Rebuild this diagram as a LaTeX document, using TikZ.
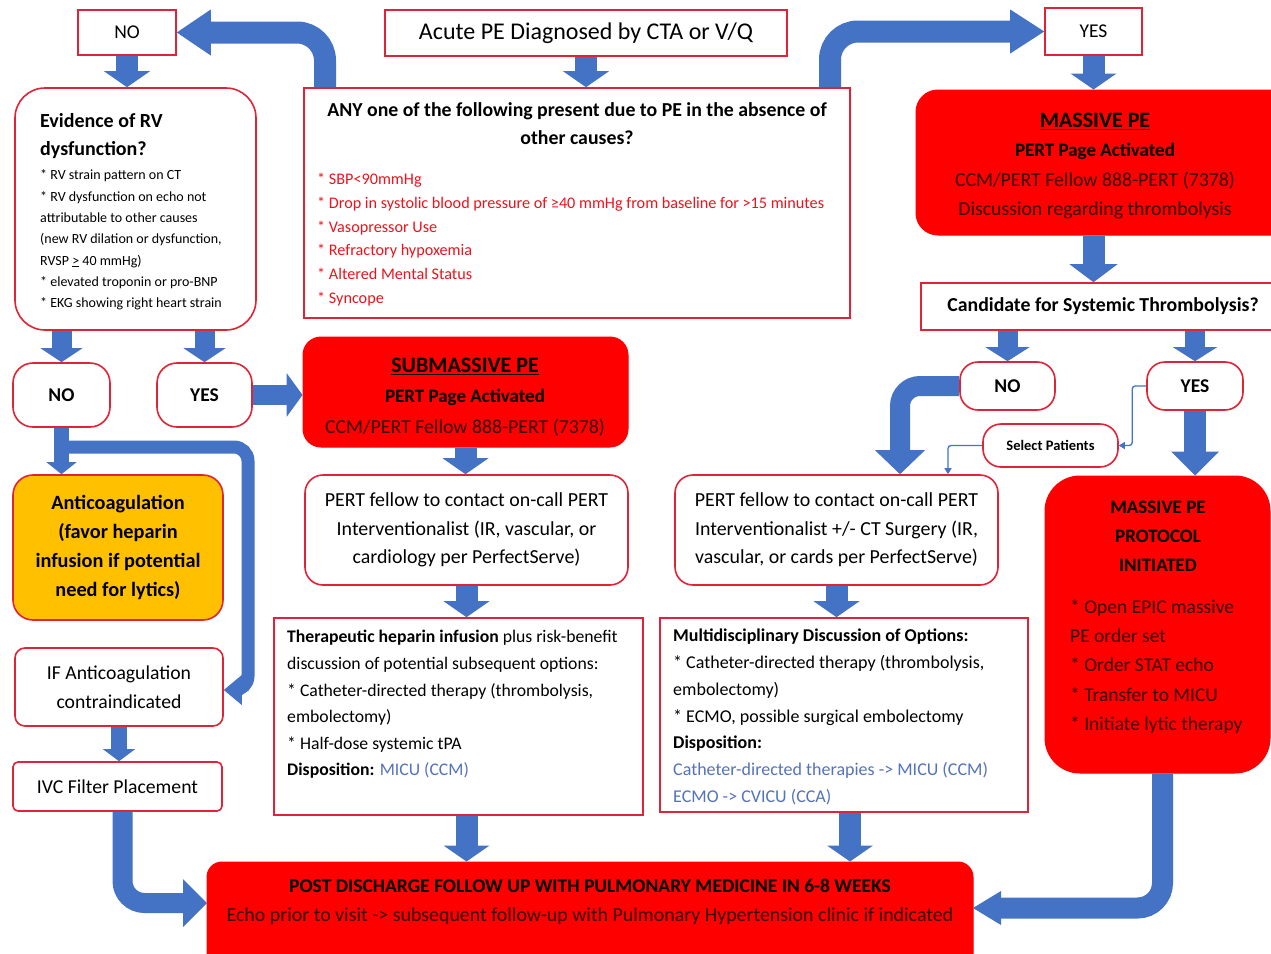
\documentclass[tikz,border=0pt]{standalone}
\usepackage{fontspec}
\setmainfont{Carlito}
\usetikzlibrary{arrows.meta}
\definecolor{bblue}{RGB}{68,114,196}
\definecolor{bred}{RGB}{255,0,0}
\definecolor{bord}{RGB}{225,35,55}
\definecolor{dred}{RGB}{55,0,0}
\definecolor{lnk}{RGB}{85,115,185}
\definecolor{orng}{RGB}{255,192,0}
\definecolor{lred}{RGB}{235,20,30}
\newcommand{\myfs}[2]{\fontsize{#1}{#2}\selectfont}
\tikzset{
  wbox/.style={draw=bord, line width=1.6pt, fill=white, inner sep=0pt},
  rbox/.style={draw=bred, line width=1pt, fill=bred, inner sep=0pt},
  txt/.style={inner sep=0pt, align=center},
  ltxt/.style={inner sep=0pt, align=left, anchor=west},
  blk/.style n args={3}{draw=bblue, line width=#1, -{Triangle[length=#2, width=#3, line width=0pt]}},
  thinarrow/.style={draw=bblue, line width=1.3pt, -{Triangle[length=6pt, width=7pt]}},
}
\begin{document}
\begin{tikzpicture}[x=1pt,y=-1pt]
\useasboundingbox[fill=white] (0,0) rectangle (1271,953);
% ---------- boxes ----------
\node[wbox, minimum width=98pt, minimum height=45pt, font=\myfs{19.5}{22}] (no1) at (127,32.5) {NO};
\node[wbox, minimum width=402pt, minimum height=46pt, font=\myfs{24}{28}] (acute) at (586,33) {Acute PE Diagnosed by CTA or V/Q};
\node[wbox, minimum width=97pt, minimum height=47pt, font=\myfs{19.5}{22}] (yes1) at (1093.5,31.5) {YES};

\node[wbox, minimum width=546pt, minimum height=230pt] (any) at (577,203) {};
\node[txt, font=\bfseries\myfs{19.8}{28}] (anyt) at (577,124) {ANY one of the following present due to PE in the absence of\\other causes?};
\node[ltxt, text=lred, font=\myfs{16.2}{23.8}] (anyl) at (317,239.5) {* SBP<90mmHg\\* Drop in systolic blood pressure of ≥40 mmHg from baseline for >15 minutes\\* Vasopressor Use\\* Refractory hypoxemia\\* Altered Mental Status\\* Syncope};

\node[wbox, rounded corners=30pt, minimum width=241pt, minimum height=242pt] (ev) at (135.5,209) {};
\node[ltxt, font=\bfseries\myfs{20}{28}] (evt) at (40,136) {Evidence of RV\\dysfunction?};
\node[ltxt, font=\myfs{14}{21.3}] (evl) at (40,240) {* RV strain pattern on CT\\* RV dysfunction on echo not\\attributable to other causes\\(new RV dilation or dysfunction,\\RVSP \underline{>} 40 mmHg)\\* elevated troponin or pro-BNP\\* EKG showing right heart strain};

\node[rbox, rounded corners=22pt, minimum width=380pt, minimum height=145pt] (mass) at (1106,162.5) {};
\node[txt, font=\myfs{19.8}{29.3}] (masst) at (1095,166) {{\bfseries\myfs{22}{29.3}\underline{MASSIVE PE}}\\{\bfseries\myfs{19}{29.3}PERT Page Activated}\\\textcolor{dred}{CCM/PERT Fellow 888-PERT (7378)}\\\textcolor{dred}{Discussion regarding thrombolysis}};

\node[wbox, minimum width=380pt, minimum height=47pt] (cand) at (1111,306.5) {};
\node[txt, font=\bfseries\myfs{19.8}{22}] (candt) at (1103,306) {Candidate for Systemic Thrombolysis?};

\node[wbox, rounded corners=20pt, minimum width=97pt, minimum height=64pt, font=\bfseries\myfs{19.5}{22}] (noL) at (61.5,395) {NO};
\node[wbox, rounded corners=20pt, minimum width=95pt, minimum height=64pt, font=\bfseries\myfs{19.5}{22}] (yesL) at (204.5,395) {YES};

\node[rbox, rounded corners=18pt, minimum width=325pt, minimum height=110pt] (sub) at (465.5,392) {};
\node[txt, font=\myfs{19.8}{30.5}] (subt) at (465,397) {{\bfseries\myfs{22}{30.5}\underline{SUBMASSIVE PE}}\\{\bfseries\myfs{19}{30.5}PERT Page Activated}\\\textcolor{dred}{CCM/PERT Fellow 888-PERT (7378)}};

\node[wbox, rounded corners=18pt, minimum width=323pt, minimum height=110pt, align=center, font=\myfs{19.9}{28.5}] (pert1) at (466.5,530) {PERT fellow to contact on-call PERT\\Interventionalist (IR, vascular, or\\cardiology per PerfectServe)};

\node[wbox, fill=orng, rounded corners=20pt, minimum width=210pt, minimum height=145pt, align=center, font=\bfseries\myfs{20.3}{29.3}] (anti) at (118,547.5) {Anticoagulation\\(favor heparin\\infusion if potential\\need for lytics)};

\node[wbox, rounded corners=10pt, minimum width=208pt, minimum height=78pt, align=center, font=\myfs{19.7}{29}] (ifb) at (119,687) {IF Anticoagulation\\contraindicated};
\node[wbox, rounded corners=5pt, minimum width=209pt, minimum height=49pt, font=\myfs{19.7}{22}] (ivc) at (117.5,786.5) {IVC Filter Placement};

\node[wbox, minimum width=369pt, minimum height=197pt] (ther) at (458.5,716.5) {};
\node[ltxt, font=\myfs{17.7}{26.6}] (thert) at (287,704.5) {\textbf{Therapeutic heparin infusion} plus risk-benefit\\discussion of potential subsequent options:\\* Catheter-directed therapy (thrombolysis,\\embolectomy)\\* Half-dose systemic tPA\\\textbf{Disposition:} \textcolor{lnk}{MICU (CCM)}};

\node[wbox, rounded corners=18pt, minimum width=95pt, minimum height=48pt, font=\bfseries\myfs{19.5}{22}] (noR) at (1007.5,386) {NO};
\node[wbox, rounded corners=18pt, minimum width=96pt, minimum height=48pt, font=\bfseries\myfs{19.5}{22}] (yesR) at (1195,386) {YES};
\node[wbox, rounded corners=18pt, minimum width=135pt, minimum height=43pt, font=\bfseries\myfs{14.5}{17}] (sel) at (1050.5,445.5) {Select Patients};

\node[wbox, rounded corners=18pt, minimum width=323pt, minimum height=110pt, align=center, font=\myfs{19.9}{28.5}] (pert2) at (836.5,530) {PERT fellow to contact on-call PERT\\Interventionalist +/- CT Surgery (IR,\\vascular, or cards per PerfectServe)};

\node[rbox, rounded corners=35pt, minimum width=225pt, minimum height=297pt] (mpp) at (1157.5,624.5) {};
\node[txt, font=\bfseries\myfs{19}{29}] (mppt) at (1158,536) {MASSIVE PE\\PROTOCOL\\INITIATED};
\node[ltxt, text=dred, font=\myfs{19.5}{29.3}] (mppl) at (1070,666.5) {* Open EPIC massive\\PE order set\\* Order STAT echo\\* Transfer to MICU\\* Initiate lytic therapy};

\node[wbox, minimum width=368pt, minimum height=194pt] (multi) at (844,715) {};
\node[ltxt, font=\myfs{18}{26.7}] (multit) at (673,717) {\textbf{Multidisciplinary Discussion of Options:}\\* Catheter-directed therapy (thrombolysis,\\embolectomy)\\* ECMO, possible surgical embolectomy\\\textbf{Disposition:}\\\textcolor{lnk}{Catheter-directed therapies -> MICU (CCM)}\\\textcolor{lnk}{ECMO -> CVICU (CCA)}};

\node[rbox, rounded corners=15pt, minimum width=766pt, minimum height=110pt] (post) at (590,917) {};
\node[txt, font=\myfs{19.9}{29}] (postt) at (590,901.5) {{\bfseries\myfs{19.5}{29}POST DISCHARGE FOLLOW UP WITH PULMONARY MEDICINE IN 6-8 WEEKS}\\\textcolor{dred}{Echo prior to visit -> subsequent follow-up with Pulmonary Hypertension clinic if indicated}};

% ---------- connectors ----------
\draw[blk={22pt}{34pt}{46pt}] ([xshift=-252pt]any.north) [rounded corners=28pt] |- (no1.east);
\draw[blk={22pt}{34pt}{44pt}] ([xshift=253pt]any.north) [rounded corners=28pt] |- (yes1.west);
\draw[blk={22pt}{16pt}{46pt}] (acute.south) -- (acute.south |- any.north);
\draw[blk={22pt}{16pt}{46pt}] (no1.south) -- (no1.south |- ev.north);
\draw[blk={22pt}{16pt}{46pt}] (yes1.south) -- (yes1.south |- mass.north);
\draw[blk={22pt}{18pt}{48pt}] (yes1.south |- mass.south) -- (yes1.south |- cand.north);

\draw[blk={20pt}{14pt}{42pt}] (noL.north |- ev.south) -- (noL.north);
\draw[blk={20pt}{14pt}{42pt}] (yesL.north |- ev.south) -- (yesL.north);
\draw[blk={20pt}{16pt}{44pt}] (yesL.east) -- (yesL.east -| sub.west);
\draw[blk={15pt}{12pt}{30pt}] (noL.south) -- (noL.south |- anti.north);
\coordinate (br) at (61.5,447);
\coordinate (bc) at (248,447);
\coordinate (bd) at (248,690);
\draw[blk={13pt}{18pt}{30pt}] (br) [rounded corners=14pt] -- (bc) -- (bd) [sharp corners] -- (bd -| ifb.east);
\draw[blk={16pt}{12pt}{32pt}] (ifb.south) -- (ifb.south |- ivc.north);
\coordinate (pl) at (207,903);
\draw[blk={20pt}{24pt}{48pt}] ([xshift=5pt]ivc.south) [rounded corners=22pt] |- (pl);

\draw[blk={22pt}{16pt}{46pt}] (sub.south) -- (sub.south |- pert1.north);
\draw[blk={22pt}{16pt}{46pt}] (pert1.south) -- (pert1.south |- ther.north);
\draw[blk={22pt}{16pt}{46pt}] (pert1.south |- ther.south) -- (pert1.south |- post.north);

\draw[blk={20pt}{14pt}{44pt}] (noR.north |- cand.south) -- (noR.north);
\draw[blk={20pt}{14pt}{44pt}] (yesR.north |- cand.south) -- (yesR.north);
\draw[blk={20pt}{24pt}{50pt}] (noR.west) [rounded corners=20pt] -| ([xshift=63.5pt]pert2.north);
\draw[blk={22pt}{24pt}{48pt}] (yesR.south) -- (yesR.south |- mpp.north);
\draw[blk={22pt}{16pt}{46pt}] (pert2.south) -- (pert2.south |- multi.north);
\draw[blk={22pt}{16pt}{46pt}] ([xshift=6pt]multi.south) -- ([xshift=6pt]multi.south |- post.north);
\coordinate (pr) at (973,908);
\draw[blk={21pt}{28pt}{34pt}] ([xshift=5pt]mpp.south) [rounded corners=25pt] |- (pr);

\draw[thinarrow, rounded corners=3pt] (yesR.west) -- ++(-14,0) |- (sel.east);
\draw[thinarrow, rounded corners=3pt] (sel.west) -| ([xshift=111.5pt]pert2.north);
\end{tikzpicture}
\end{document}
